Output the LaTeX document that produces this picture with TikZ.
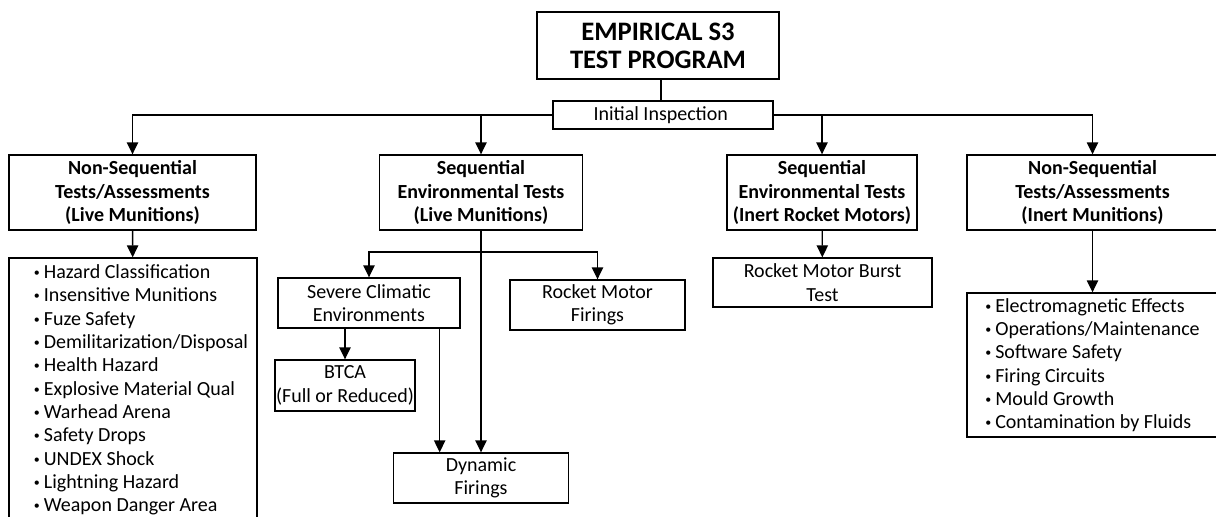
\documentclass[tikz,border=0pt]{standalone}
\usepackage{fontspec}
\setmainfont{Carlito}
\usetikzlibrary{arrows.meta,positioning}

\newcommand{\itm}[1][0pt]{\hspace*{#1}{\fontsize{9}{9}\selectfont\raisebox{1.5pt}{\textbullet}}\hspace{3pt}\ignorespaces}

\begin{document}
\begin{tikzpicture}[x=0.75pt, y=-0.75pt,
    box/.style={rectangle, draw=black, line width=1pt, inner sep=0pt, text centered, align=center, text=black, font=\fontsize{15}{17.5}\selectfont},
    headbox/.style={box, font=\fontsize{15}{17.5}\selectfont\bfseries, minimum height=56.25pt},
    listbox/.style={box, align=left},
    arrow/.style={-{Triangle[width=8.5pt,length=9pt]}, line width=1pt},
    backarrow/.style={{Triangle[width=8.5pt,length=9pt]}-, line width=1pt},
    link/.style={line width=1pt}]
    \useasboundingbox (0,0) rectangle (1216,517);

    \node (Title) [box, font=\fontsize{20}{21}\selectfont\bfseries, minimum width=181.5pt, minimum height=50.25pt] at (658,45.5) {
        EMPIRICAL S3\\TEST PROGRAM
    };

    \node (Inspection) [box, minimum width=165pt, minimum height=21pt] at (663,115) {
        Initial Inspection
    };

    \draw[link] ([xshift=2.25pt]Title.south) -- ([xshift=2.25pt]Title.south |- Inspection.north);

    % first row
    \node (LiveAssess) [headbox, minimum width=185.25pt] at (132.5,192.5) {
        Non-Sequential\\Tests/Assessments\\(Live Munitions)
    };

    \node (LiveEnv) [headbox, minimum width=152.25pt] at (481,192.5) {
        Sequential\\Environmental Tests\\(Live Munitions)
    };

    \node (InertMotor) [headbox, minimum width=142.5pt] at (822,192.5) {
        Sequential\\Environmental Tests\\(Inert Rocket Motors)
    };

    \node (InertAssess) [headbox, minimum width=188.25pt] at (1092.5,192.5) {
        Non-Sequential\\Tests/Assessments\\(Inert Munitions)
    };

    \draw[arrow] (Inspection.west) -| (LiveAssess.north);
    \draw[arrow] (Inspection.east) -| (InertAssess.north);
    \draw[arrow] (Inspection.west -| LiveEnv.north) -- (LiveEnv.north);
    \draw[arrow] (Inspection.east -| InertMotor.north) -- (InertMotor.north);

    % live munitions
    \node (LiveList) [listbox, minimum width=186pt, minimum height=198pt] at (133,390) {
        \itm[12pt] Hazard Classification\\
        \itm[12pt] Insensitive Munitions\\
        \itm[12pt] Fuze Safety\\
        \itm[12pt] Demilitarization/Disposal\\
        \itm[12pt] Health Hazard\\
        \itm[12pt] Explosive Material Qual\\
        \itm[12pt] Warhead Arena\\
        \itm[12pt] Safety Drops\\
        \itm[12pt] UNDEX Shock\\
        \itm[12pt] Lightning Hazard\\
        \itm[12pt] Weapon Danger Area
    }
        edge[backarrow] (LiveAssess);

    \coordinate (Fork) at (481,252);

    \node (Climatic) [box, minimum width=136.5pt, minimum height=37.5pt] at (369,303) {
        Severe Climatic\\Environments
    };

    \node (MotorFirings) [box, minimum width=131.25pt, minimum height=37.5pt] at (597.5,305) {
        Rocket Motor\\Firings
    };

    \node (BTCA) [box, minimum width=105pt, minimum height=38.25pt] at (345,385.5) {
        BTCA\\(Full or Reduced)
    };

    \node (Dynamic) [box, minimum width=131.25pt, minimum height=37.5pt] at (481,478) {
        Dynamic\\Firings
    };

    \draw[arrow] (Fork) -| (Climatic.north);
    \draw[arrow] (Fork) -| (MotorFirings.north);
    \draw[arrow] (LiveEnv.south) -- (Dynamic.north);
    \draw[arrow] (Climatic.south -| BTCA.north) -- (BTCA.north);
    \draw[arrow] ([xshift=53pt]Climatic.south) -- ([xshift=53pt]Climatic.south |- Dynamic.north);

    % inert
    \node (BurstTest) [box, minimum width=164.25pt, minimum height=36.75pt] at (822.5,282.5) {
        Rocket Motor Burst\\Test
    }
        edge[backarrow] (InertMotor);

    \node (InertList) [listbox, minimum width=188.25pt, minimum height=108pt] at (1092.5,365) {
        \itm Electromagnetic Effects\\
        \itm Operations/Maintenance\\
        \itm Software Safety\\
        \itm Firing Circuits\\
        \itm Mould Growth\\
        \itm Contamination by Fluids
    }
        edge[backarrow] (InertAssess);
\end{tikzpicture}
\end{document}
